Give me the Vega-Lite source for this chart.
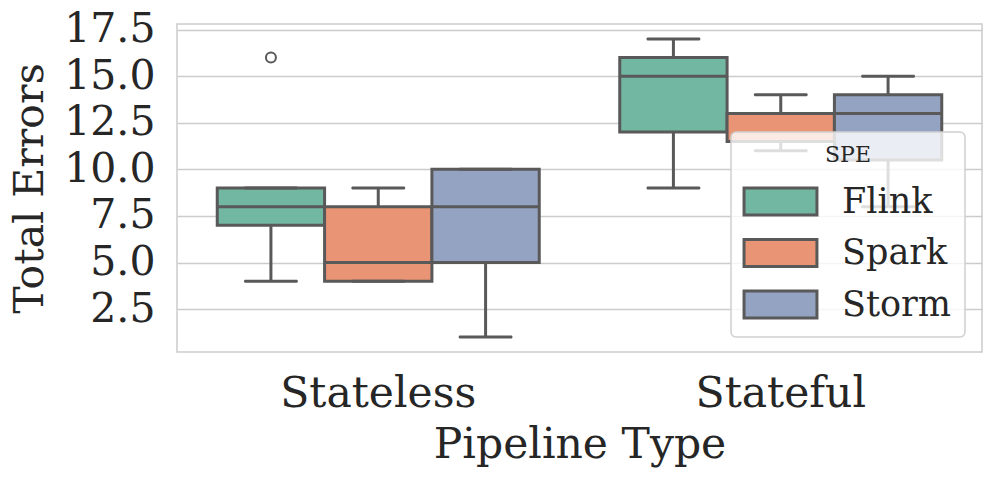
{
  "$schema": "https://vega.github.io/schema/vega-lite/v6.json",
  "width": 805,
  "height": 328,
  "autosize": {"type": "none"},
  "padding": {"left": 177, "top": 24, "right": 14, "bottom": 126},
  "background": "white",
  "config": {
    "font": "DejaVu Serif",
    "view": {"stroke": "#cccccc", "strokeWidth": 1.5},
    "axis": {
      "labelColor": "#262626",
      "titleColor": "#262626",
      "labelFontSize": 41,
      "titleFontSize": 41,
      "titleFontWeight": "normal",
      "ticks": false,
      "tickSize": 0,
      "domain": false,
      "gridColor": "#cccccc",
      "gridWidth": 1.5,
      "labelLimit": 0
    },
    "legend": {
      "orient": "none",
      "legendX": 554,
      "legendY": 108,
      "padding": 13,
      "fillColor": "rgba(255,255,255,0.8)",
      "strokeColor": "#d0d0d0",
      "strokeWidth": 1.5,
      "cornerRadius": 5,
      "titleFontSize": 22,
      "titleFontWeight": "normal",
      "titleColor": "#262626",
      "titleAnchor": "middle",
      "titlePadding": 17,
      "labelFontSize": 35,
      "labelColor": "#262626",
      "labelOffset": 44,
      "rowPadding": 12.5,
      "symbolOffset": 19,
      "symbolType": "M-2.7,-1H2.7V1H-2.7Z",
      "symbolSize": 729,
      "symbolStrokeColor": "#595959",
      "symbolStrokeWidth": 3
    }
  },
  "datasets": {
    "boxes": [
      {"type": "Stateless", "spe": "Flink", "lower": 4, "q1": 7, "median": 8, "q3": 9, "upper": 9},
      {"type": "Stateless", "spe": "Spark", "lower": 4, "q1": 4, "median": 5, "q3": 8, "upper": 9},
      {"type": "Stateless", "spe": "Storm", "lower": 1, "q1": 5, "median": 8, "q3": 10, "upper": 10},
      {"type": "Stateful", "spe": "Flink", "lower": 9, "q1": 12, "median": 15, "q3": 16, "upper": 17},
      {"type": "Stateful", "spe": "Spark", "lower": 11, "q1": 11.5, "median": 13, "q3": 13, "upper": 14},
      {"type": "Stateful", "spe": "Storm", "lower": 8, "q1": 10.5, "median": 13, "q3": 14, "upper": 15}
    ],
    "outliers": [
      {"type": "Stateless", "spe": "Flink", "value": 16}
    ]
  },
  "encoding": {
    "x": {
      "field": "type",
      "type": "nominal",
      "sort": ["Stateless", "Stateful"],
      "scale": {"domain": ["Stateless", "Stateful"], "paddingInner": 0.2, "paddingOuter": 0.1},
      "axis": {"title": "Pipeline Type", "labelAngle": 0, "grid": false, "labelPadding": 20, "titlePadding": 9, "labelFontSize": 42.5, "titleFontSize": 42.5}
    },
    "xOffset": {
      "field": "spe",
      "type": "nominal",
      "scale": {"domain": ["Flink", "Spark", "Storm"], "paddingInner": 0, "paddingOuter": 0}
    }
  },
  "layer": [
    {
      "data": {"name": "boxes"},
      "mark": {"type": "rule", "stroke": "#595959", "strokeWidth": 3},
      "encoding": {
        "y": {
          "field": "lower",
          "type": "quantitative",
          "title": "Total Errors",
          "scale": {"domain": [0.2, 17.8], "nice": false, "zero": false},
          "axis": {"values": [2.5, 5, 7.5, 10, 12.5, 15, 17.5], "format": ".1f", "grid": true, "labelPadding": 22, "titlePadding": 12}
        },
        "y2": {"field": "upper"}
      }
    },
    {
      "data": {"name": "boxes"},
      "mark": {"type": "bar", "stroke": "#595959", "strokeWidth": 3},
      "encoding": {
        "y": {"field": "q1", "type": "quantitative", "title": "Total Errors"},
        "y2": {"field": "q3"},
        "color": {
          "field": "spe",
          "type": "nominal",
          "title": "SPE",
          "scale": {"domain": ["Flink", "Spark", "Storm"], "range": ["#71b7a1", "#e99575", "#95a3c3"]}
        }
      }
    },
    {
      "data": {"name": "boxes"},
      "mark": {"type": "tick", "color": "#595959", "thickness": 3, "size": 107, "opacity": 1},
      "encoding": {
        "y": {"field": "median", "type": "quantitative", "title": "Total Errors"}
      }
    },
    {
      "data": {"name": "boxes"},
      "mark": {"type": "tick", "color": "#595959", "thickness": 3, "size": 54, "opacity": 1, "cornerRadius": 1.5},
      "encoding": {
        "y": {"field": "lower", "type": "quantitative", "title": "Total Errors"}
      }
    },
    {
      "data": {"name": "boxes"},
      "mark": {"type": "tick", "color": "#595959", "thickness": 3, "size": 54, "opacity": 1, "cornerRadius": 1.5},
      "encoding": {
        "y": {"field": "upper", "type": "quantitative", "title": "Total Errors"}
      }
    },
    {
      "data": {"name": "outliers"},
      "mark": {"type": "point", "filled": false, "stroke": "#595959", "strokeWidth": 2, "size": 100, "opacity": 1},
      "encoding": {
        "y": {"field": "value", "type": "quantitative", "title": "Total Errors"}
      }
    }
  ]
}
